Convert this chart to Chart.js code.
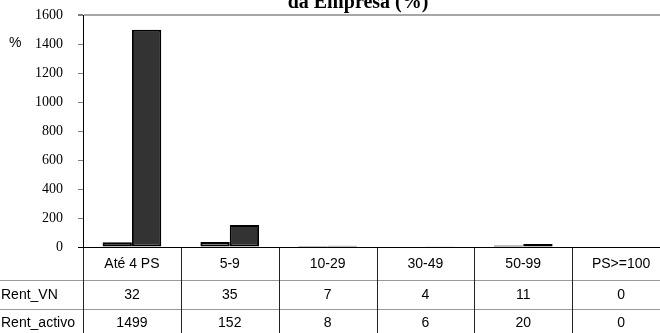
<!DOCTYPE html>
<html>
<head>
<meta charset="utf-8">
<script src="https://cdn.jsdelivr.net/npm/chart.js@4.4.1/dist/chart.umd.min.js"></script>
<style>
  html, body { margin: 0; padding: 0; background: #fff; overflow: hidden; }
  #wrap { width: 670px; height: 333px; }
</style>
</head>
<body>
<div id="wrap"><canvas id="chart" width="670" height="333"></canvas></div>
<script>
"use strict";

const categories = ['Até 4 PS', '5-9', '10-29', '30-49', '50-99', 'PS>=100'];
const rentVN = [32, 35, 7, 4, 11, 0];
const rentActivo = [1499, 152, 8, 6, 20, 0];
const seriesNames = ['Rent_VN', 'Rent_activo'];
const yTicks = [0, 200, 400, 600, 800, 1000, 1200, 1400, 1600];

const TABLE_ROWS = [33, 29, 29];
const SANS = '"Liberation Sans", Arial, sans-serif';
const SERIF = '"Liberation Serif", "Times New Roman", serif';

// data table under the plot + title remnant + "%" label
const tablePlugin = {
    id: 'dataTable',
    afterDraw(chart) {
        const c = chart.ctx;
        const area = chart.chartArea;
        const x = chart.scales.x;
        const colW = (area.right - area.left) / categories.length;
        const top = area.bottom;
        const r1 = top + TABLE_ROWS[0];
        const r2 = r1 + TABLE_ROWS[1];
        const r3 = r2 + TABLE_ROWS[2];

        c.save();

        // title (first line is outside the picture)
        c.fillStyle = '#000';
        c.font = 'bold 20px ' + SERIF;
        c.textAlign = 'center';
        c.textBaseline = 'alphabetic';
        c.fillText('da Empresa (%)', 358, 8);

        // unit label
        c.font = '14px ' + SANS;
        c.textAlign = 'left';
        c.textBaseline = 'middle';
        c.fillText('%', 9, 43);

        // horizontal row lines
        c.lineWidth = 1;
        c.strokeStyle = '#999';
        [r1, r2].forEach(y => {
            c.beginPath();
            c.moveTo(0, Math.round(y) + 0.5);
            c.lineTo(chart.width, Math.round(y) + 0.5);
            c.stroke();
        });

        // vertical column lines
        c.strokeStyle = '#222';
        for (let i = 0; i <= categories.length; i++) {
            const px = Math.round(area.left + i * colW) + 0.5;
            c.beginPath();
            c.moveTo(px, top);
            c.lineTo(px, r3);
            c.stroke();
        }

        // zero line / table top
        c.strokeStyle = '#000';
        c.beginPath();
        c.moveTo(area.left - 5, Math.round(top) + 0.5);
        c.lineTo(chart.width, Math.round(top) + 0.5);
        c.stroke();

        // texts
        c.fillStyle = '#000';
        c.font = '14px ' + SANS;
        c.textBaseline = 'middle';
        c.textAlign = 'center';
        categories.forEach((cat, i) => {
            const cx = x.getPixelForValue(i);
            c.fillText(cat, cx, (top + r1) / 2 + 1);
            c.fillText(String(rentVN[i]), cx, (r1 + r2) / 2 + 1);
            c.fillText(String(rentActivo[i]), cx, (r2 + r3) / 2);
        });
        c.textAlign = 'left';
        c.fillText(seriesNames[0], 1, (r1 + r2) / 2 + 1);
        c.fillText(seriesNames[1], 1, (r2 + r3) / 2);

        c.restore();
    }
};

const ctx = document.getElementById('chart').getContext('2d');
const chart = new Chart(ctx, {
    type: 'bar',
    data: {
        labels: categories,
        datasets: [{
            label: seriesNames[0],
            data: rentVN,
            backgroundColor: '#808080',
            borderColor: '#000',
            borderWidth: c => (c.raw === 0 ? 0 : 2),
            borderSkipped: false,
            categoryPercentage: 0.6,
            barPercentage: 1.0
        }, {
            label: seriesNames[1],
            data: rentActivo,
            backgroundColor: '#333333',
            borderColor: '#000',
            borderWidth: c => (c.raw === 0 ? 0 : 2),
            borderSkipped: false,
            categoryPercentage: 0.6,
            barPercentage: 1.0
        }]
    },
    options: {
        responsive: false,
        animation: false,
        layout: {
            padding: { top: 15, bottom: 86, left: 0, right: 0 }
        },
        scales: {
            x: {
                display: false
            },
            y: {
                min: 0,
                max: 1600,
                afterFit: s => {
                    s.width = 83;
                    s.paddingTop = 0;
                    s.paddingBottom = 0;
                },
                afterBuildTicks: s => { s.ticks = yTicks.map(v => ({ value: v })); },
                ticks: {
                    padding: 15,
                    color: '#000',
                    font: { family: SERIF, size: 14 },
                    callback: v => String(v)
                },
                grid: {
                    drawOnChartArea: true,
                    color: c => (c.tick && c.tick.value === 1600 ? '#a6a6a6' : 'rgba(0,0,0,0)'),
                    lineWidth: c => (c.tick && c.tick.value === 1600 ? 2 : 1),
                    tickColor: '#808080',
                    tickLength: 5
                },
                border: { color: '#000', width: 1 }
            }
        },
        plugins: {
            legend: { display: false },
            title: { display: false },
            tooltip: { enabled: false }
        }
    },
    plugins: [tablePlugin]
});
</script>
</body>
</html>
